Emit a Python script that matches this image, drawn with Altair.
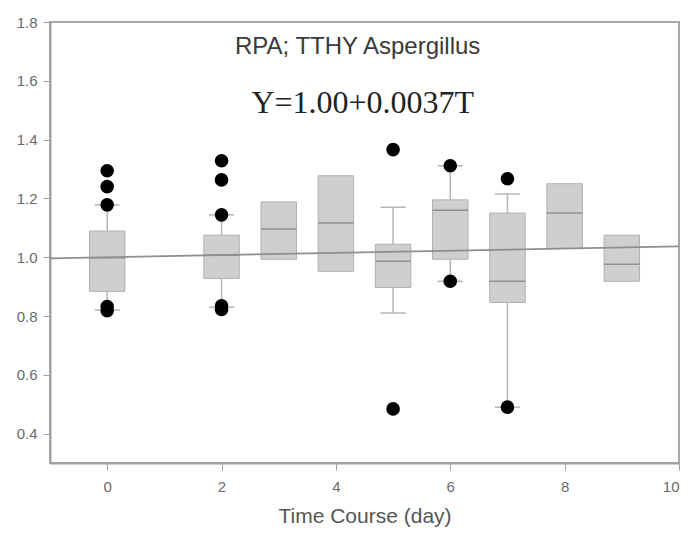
import altair as alt
import pandas as pd

# ---- data ----
days      = [0, 2, 3, 4, 5, 6, 7, 8, 9]
q1        = [0.884, 0.928, 0.993, 0.952, 0.897, 0.993, 0.846, 1.030, 0.918]
median    = [0.998, 1.007, 1.096, 1.116, 0.986, 1.160, 0.918, 1.150, 0.976]
q3        = [1.089, 1.075, 1.188, 1.277, 1.044, 1.195, 1.150, 1.250, 1.075]

# whiskers (None = no whisker drawn)
wlo       = [0.820, 0.830, None, None, 0.810, 0.918, 0.490, None, None]
whi       = [1.178, 1.144, None, None, 1.170, 1.311, 1.215, None, None]

out_day   = [0, 0, 0, 0, 0, 2, 2, 2, 2, 2, 5, 5, 6, 6, 7, 7]
out_val   = [1.294, 1.240, 1.178, 0.832, 0.818,
             1.328, 1.263, 1.144, 0.835, 0.822,
             1.366, 0.484, 1.311, 0.918, 1.267, 0.490]

intercept, slope = 1.00, 0.0037
x_domain = [-1, 10]
y_domain = [0.3, 1.8]
x_ticks = [0, 2, 4, 6, 8, 10]
y_ticks = [0.4, 0.6, 0.8, 1.0, 1.2, 1.4, 1.6, 1.8]

title_txt = "RPA; TTHY Aspergillus"
eq_txt = "Y=1.00+0.0037T"
x_title = "Time Course (day)"

# ---- tables ----
q1_of = dict(zip(days, q1))
q3_of = dict(zip(days, q3))
lo_rows = [(d, q1_of[d], e) for d, e in zip(days, wlo) if e is not None]
hi_rows = [(d, q3_of[d], e) for d, e in zip(days, whi) if e is not None]
whiskers = pd.DataFrame(lo_rows + hi_rows, columns=["day", "start", "end"])
boxes = pd.DataFrame({"day": days, "q1": q1, "median": median, "q3": q3})
outl = pd.DataFrame({"day": out_day, "val": out_val})
reg = pd.DataFrame({"t": x_domain,
                    "y": [intercept + slope * t for t in x_domain]})

xs = alt.Scale(domain=x_domain, nice=False, zero=False)
ys = alt.Scale(domain=y_domain, nice=False, zero=False)

lab = dict(labelFont="Liberation Sans", labelFontSize=15, labelColor="#6a6a6a",
           domainColor="#a0a0a0", domainWidth=2, tickColor="#a0a0a0",
           tickSize=7, grid=False)

base_box = alt.Chart(boxes).transform_calculate(
    xa="datum.day - 0.31", xb="datum.day + 0.31")

rects = base_box.mark_rect(fill="#cfcfcf", stroke="#b0b0b0",
                           strokeWidth=1).encode(
    x=alt.X("xa:Q", scale=xs,
            axis=alt.Axis(values=x_ticks, title=x_title, format="d",
                          labelPadding=9, titlePadding=11,
                          titleFont="Liberation Sans", titleFontSize=21,
                          titleColor="#555555", titleFontWeight="normal",
                          **lab)),
    x2="xb:Q",
    y=alt.Y("q1:Q", scale=ys,
            axis=alt.Axis(values=y_ticks, format=".1f", title=None,
                          labelPadding=6, **lab)),
    y2="q3:Q",
)

medians = base_box.mark_rule(color="#909090", strokeWidth=1.5).encode(
    x=alt.X("xa:Q", scale=xs), x2="xb:Q",
    y=alt.Y("median:Q", scale=ys))

wh = alt.Chart(whiskers).mark_rule(color="#b5b5b5", strokeWidth=1.5).encode(
    x=alt.X("day:Q", scale=xs),
    y=alt.Y("start:Q", scale=ys), y2="end:Q")

caps = alt.Chart(whiskers).transform_calculate(
    xa="datum.day - 0.22", xb="datum.day + 0.22"
).mark_rule(color="#b5b5b5", strokeWidth=1.5).encode(
    x=alt.X("xa:Q", scale=xs), x2="xb:Q",
    y=alt.Y("end:Q", scale=ys))

regline = alt.Chart(reg).mark_line(color="#8f8f8f", strokeWidth=1.8).encode(
    x=alt.X("t:Q", scale=xs), y=alt.Y("y:Q", scale=ys))

pts = alt.Chart(outl).mark_circle(color="black", opacity=1, size=185).encode(
    x=alt.X("day:Q", scale=xs), y=alt.Y("val:Q", scale=ys))

ann1 = pd.DataFrame({"x": [4.38], "y": [1.714], "txt": [title_txt]})
ann2 = pd.DataFrame({"x": [4.47], "y": [1.526], "txt": [eq_txt]})
t1 = alt.Chart(ann1).mark_text(
    font="Liberation Sans", fontSize=24, color="#3a3a3a").encode(
    x=alt.X("x:Q", scale=xs), y=alt.Y("y:Q", scale=ys), text="txt:N")
t2 = alt.Chart(ann2).mark_text(
    font="Liberation Serif", fontSize=32, color="#222222").encode(
    x=alt.X("x:Q", scale=xs), y=alt.Y("y:Q", scale=ys), text="txt:N")

chart = alt.layer(rects, wh, caps, medians, regline, pts, t1, t2).properties(
    width=629, height=441,
    autosize=alt.AutoSizeParams(type="none"),
    padding={"left": 50, "top": 22, "right": 17, "bottom": 74},
).configure_view(
    stroke="#a8a8a8", strokeWidth=2
)

chart.save("out.html", embed_options={"renderer": "svg", "actions": False})
